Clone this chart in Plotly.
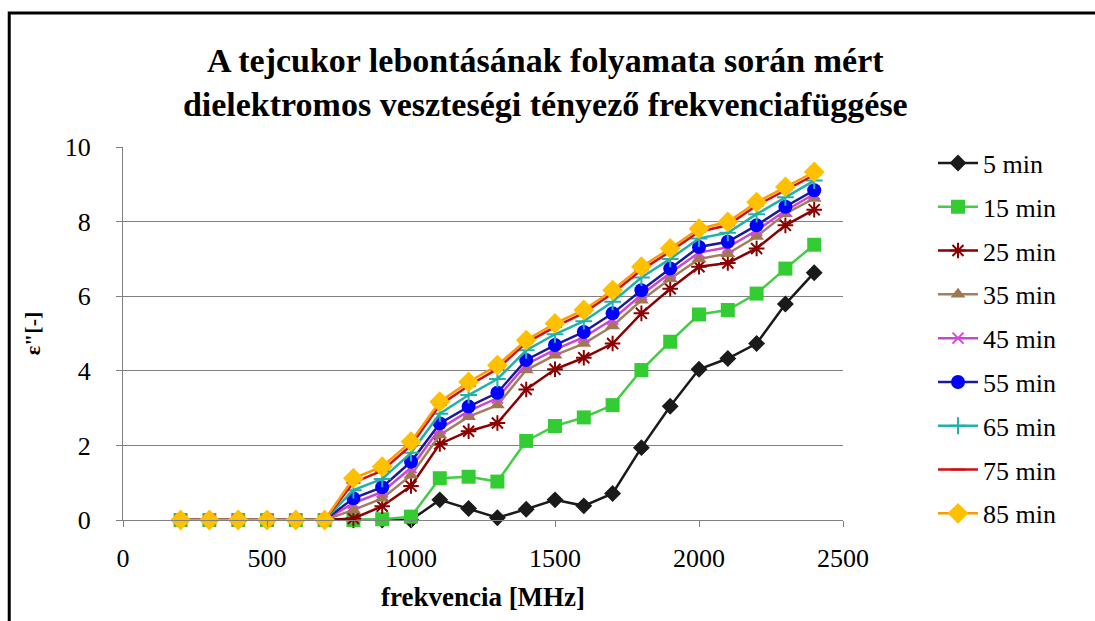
import plotly.graph_objects as go

freq = [200, 300, 400, 500, 600, 700, 800, 900, 1000, 1100, 1200, 1300, 1400,
        1500, 1600, 1700, 1800, 1900, 2000, 2100, 2200, 2300, 2400]

z6 = [0, 0, 0, 0, 0, 0]
s5 = z6 + [0, 0, 0, 0.54, 0.31, 0.06, 0.29, 0.54, 0.38, 0.71, 1.94, 3.05, 4.04, 4.33, 4.73, 5.79, 6.63]
s15 = z6 + [0, 0.02, 0.09, 1.12, 1.16, 1.03, 2.12, 2.52, 2.75, 3.08, 4.02, 4.78, 5.51, 5.63, 6.07, 6.74, 7.38]
s25 = z6 + [0.04, 0.37, 0.91, 2.04, 2.38, 2.60, 3.50, 4.04, 4.35, 4.73, 5.54, 6.20, 6.79, 6.89, 7.28, 7.90, 8.32]
s35 = z6 + [0.27, 0.58, 1.20, 2.28, 2.77, 3.08, 4.02, 4.42, 4.73, 5.20, 5.89, 6.47, 7.00, 7.14, 7.60, 8.21, 8.62]
s45 = z6 + [0.45, 0.75, 1.40, 2.45, 2.92, 3.27, 4.17, 4.57, 4.90, 5.38, 6.04, 6.62, 7.17, 7.31, 7.76, 8.29, 8.74]
s55 = z6 + [0.58, 0.88, 1.56, 2.59, 3.04, 3.41, 4.29, 4.69, 5.04, 5.54, 6.16, 6.74, 7.32, 7.46, 7.90, 8.40, 8.84]
s65 = z6 + [0.80, 1.10, 1.80, 2.85, 3.35, 3.78, 4.55, 4.98, 5.33, 5.85, 6.50, 7.00, 7.55, 7.70, 8.20, 8.65, 9.10]
s75 = z6 + [1.00, 1.32, 2.00, 3.08, 3.60, 4.05, 4.75, 5.18, 5.55, 6.08, 6.70, 7.20, 7.73, 7.90, 8.43, 8.85, 9.25]
s85 = z6 + [1.12, 1.43, 2.10, 3.17, 3.70, 4.15, 4.82, 5.27, 5.63, 6.16, 6.79, 7.28, 7.81, 7.99, 8.52, 8.93, 9.33]

names = ["5 min", "15 min", "25 min", "35 min", "45 min", "55 min", "65 min", "75 min", "85 min"]
series = [s5, s15, s25, s35, s45, s55, s65, s75, s85]

styles = [
    dict(line="#1a1a1a", mcolor="#1a1a1a", symbol="diamond", size=13, mline=None),
    dict(line="#44cc44", mcolor="#33cc33", symbol="square", size=14, mline=None),
    dict(line="#8b0000", mcolor="#8b0000", symbol="asterisk-open", size=13, mline="#8b0000"),
    dict(line="#a08060", mcolor="#a07850", symbol="triangle-up", size=13, mline=None),
    dict(line="#cc44cc", mcolor="#dd44dd", symbol="x-thin-open", size=11, mline="#dd44dd"),
    dict(line="#1a1a99", mcolor="#0000ff", symbol="circle", size=14, mline=None),
    dict(line="#20b2aa", mcolor="#20b2aa", symbol="cross-thin-open", size=12, mline="#20b2aa"),
    dict(line="#cc1111", mcolor="#cc1111", symbol="line-ew-open", size=10, mline="#cc1111"),
    dict(line="#ff9900", mcolor="#ffc000", symbol="diamond", size=16, mline=None),
]

fig = go.Figure()
for i, (nm, ys, st) in enumerate(zip(names, series, styles)):
    marker = dict(symbol=st["symbol"], size=st["size"], color=st["mcolor"])
    if st["mline"]:
        marker["line"] = dict(color=st["mline"], width=2)
    else:
        marker["line"] = dict(width=0)
    fig.add_trace(go.Scatter(
        x=freq, y=ys, name=nm, mode="lines+markers",
        line=dict(color=st["line"], width=2.5),
        marker=marker, legendgroup=nm, cliponaxis=False,
    ))

font_family = "'Liberation Serif', 'Times New Roman', serif"

fig.update_layout(
    template="none",
    width=1095, height=621,
    margin=dict(l=123, r=252, t=147, b=101),
    paper_bgcolor="white", plot_bgcolor="white",
    font=dict(family=font_family, size=26, color="black"),
    title=dict(
        text="<b>A tejcukor lebontásának folyamata során mért<br>dielektromos veszteségi tényező frekvenciafüggése</b>",
        x=0.498, xref="container", xanchor="center",
        y=0.884, yref="container", yanchor="top",
        font=dict(family=font_family, size=34, color="black"),
    ),
    xaxis=dict(
        range=[0, 2500], tickvals=[0, 500, 1000, 1500, 2000, 2500],
        showgrid=False, zeroline=False,
        showline=True, linecolor="#808080", linewidth=1,
        ticks="outside", ticklen=6, tickcolor="#808080",
        tickfont=dict(size=26, family=font_family), ticklabelstandoff=9,
        title=dict(text="<b>frekvencia [MHz]</b>", font=dict(size=27, family=font_family), standoff=14),
    ),
    yaxis=dict(
        range=[0, 10], tickvals=[0, 2, 4, 6, 8, 10],
        showgrid=True, gridcolor="#808080", gridwidth=1,
        zeroline=False,
        showline=True, linecolor="#808080", linewidth=1,
        ticks="outside", ticklen=6, tickcolor="#808080",
        tickfont=dict(size=26, family=font_family), ticklabelstandoff=20,
        title=dict(text="<b>ε\"[-]</b>", font=dict(size=22, family=font_family), standoff=18),
    ),
    legend=dict(
        x=1.125, xanchor="left", y=1.02, yanchor="top",
        font=dict(size=26, family=font_family), tracegroupgap=7,
        bgcolor="rgba(0,0,0,0)", itemwidth=40, maxheight=480,
    ),
    showlegend=True,
    shapes=[dict(
        type="rect", xref="paper", yref="paper",
        x0=-0.158, x1=1.45, y0=-0.35, y1=1.359,
        line=dict(color="black", width=3), fillcolor="rgba(0,0,0,0)",
        layer="below",
    )],
)

fig.write_html("out.html")
